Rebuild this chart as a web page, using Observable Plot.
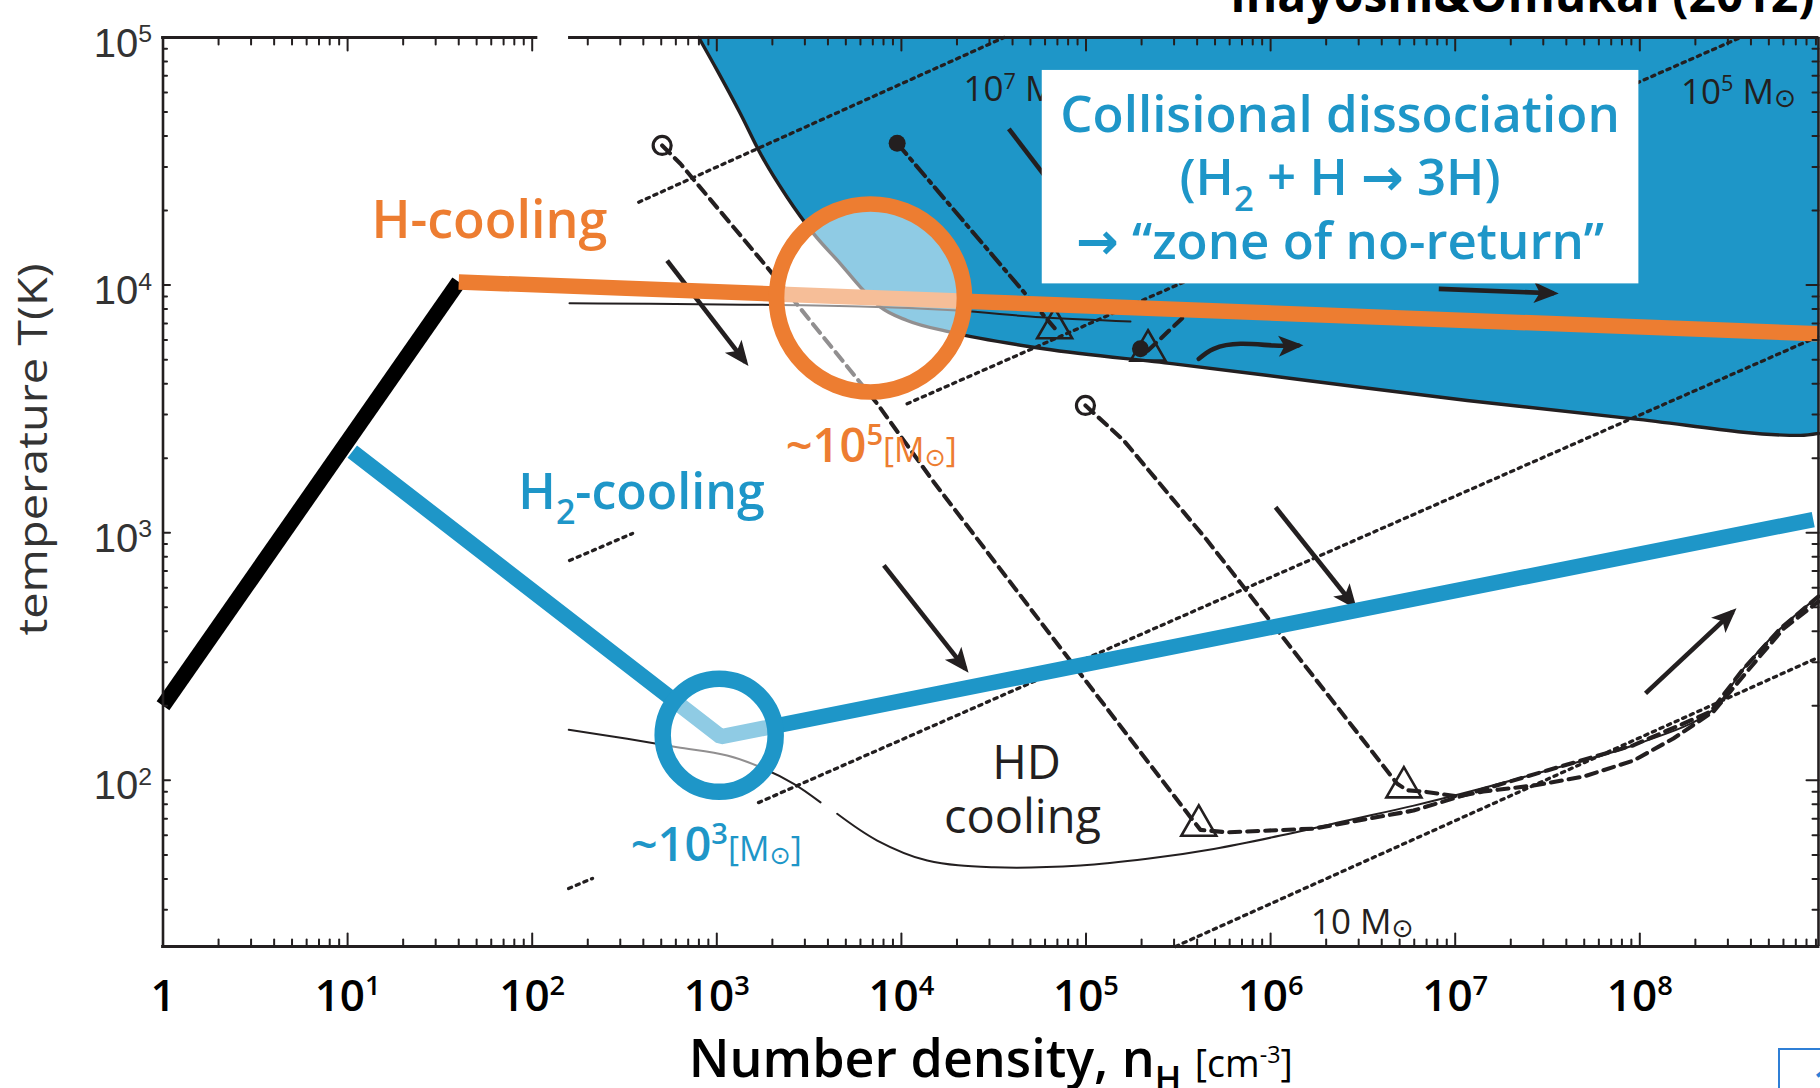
<!DOCTYPE html>
<html>
<head>
<meta charset="utf-8">
<script src="https://cdn.jsdelivr.net/npm/d3@7"></script>
<script src="https://cdn.jsdelivr.net/npm/@observablehq/plot@0.6"></script>
<style>
  html, body { margin: 0; padding: 0; background: #fff; }
  #wrap { position: relative; width: 1820px; height: 1088px; overflow: hidden; background: #fff; }
  #wrap svg { display: block; position: absolute; left: 0; top: 0; }
  #pageno { position: absolute; z-index: 2; left: 1778px; top: 1048px; width: 120px; height: 80px; box-sizing: border-box;
            border: 2px solid #2f7fd6; color: #2f7fd6; font: 600 40px 'Open Sans', sans-serif; padding: 4px 0 0 33px; background: #fff; }
</style>
</head>
<body>
<div id="wrap"><div id="pageno">1</div></div>
<script>
// ---------------- colours ----------------
const BLUE = "#1e96c8", ORANGE = "#ed7d31", INK = "#231f20";

// ---------------- axes ----------------
const X_MAX_LOG = 8.968, Y_MIN_LOG = 1.329;          // visible window (log10)
const xDecades = [0, 1, 2, 3, 4, 5, 6, 7, 8];         // labelled n_H ticks (log10)
const yDecades = [2, 3, 4, 5];                        // labelled T ticks (log10)
const minorSteps = [2, 3, 4, 5, 6, 7, 8, 9];

// ---------------- schematic thick tracks (n_H [cm^-3], T [K]) ----------------
const adiabaticN = [1, 40];             const adiabaticT = [200, 10300];
const hCoolingN  = [40, 9.2e8];         const hCoolingT  = [10300, 6360];
const h2CoolingN = [10.6, 1050, 8.7e8]; const h2CoolingT = [2128, 150, 1130];
const hCircle  = {n: 6800, T: 8870};    // ~1e5 Msun
const h2Circle = {n: 1030, T: 152};     // ~1e3 Msun

// ---------------- background figure (Inayoshi & Omukai 2012), log10 values ----------------
const boundaryLogN = [2.902, 3.002, 3.128, 3.237, 3.381, 3.525, 3.670, 3.778, 3.887, 4.031, 4.266, 4.771, 5.476, 6.198, 7.065, 7.967, 8.871, 8.968];
const boundaryLogT = [5.000, 4.867, 4.692, 4.530, 4.355, 4.207, 4.086, 3.992, 3.911, 3.857, 3.810, 3.743, 3.682, 3.615, 3.534, 3.460, 3.393, 3.401];

const upperThinLogN = [2.202, 3.778, 4.304, 4.754, 5.241];
const upperThinLogT = [3.927, 3.914, 3.897, 3.870, 3.853];

const hdCurveALogN = [2.198, 2.515, 2.786, 3.056, 3.237, 3.417, 3.562];
const hdCurveALogT = [2.204, 2.168, 2.134, 2.100, 2.053, 1.986, 1.911];
const hdCurveBLogN = [3.652, 3.869, 4.140, 4.501, 4.970, 5.332, 5.692, 6.054, 6.415, 6.776, 7.137, 7.498, 7.967, 8.383, 8.563, 8.762, 8.968];
const hdCurveBLogT = [1.865, 1.757, 1.676, 1.649, 1.656, 1.683, 1.723, 1.777, 1.838, 1.898, 1.966, 2.040, 2.142, 2.277, 2.452, 2.613, 2.743];

const jeansSegments = [
  {mass: "1e7", logN: [2.577, 4.556], logT: [4.335, 5.000]},
  {mass: "1e5", logN: [2.202, 2.544], logT: [2.888, 2.997]},
  {mass: "1e5", logN: [4.031, 8.545], logT: [3.521, 5.000]},
  {mass: "1e3", logN: [2.197, 2.327], logT: [1.563, 1.604]},
  {mass: "1e3", logN: [3.226, 8.968], logT: [1.910, 3.793]},
  {mass: "1e1", logN: [5.485, 8.968], logT: [1.329, 2.497]}
];

const trackALogN = [2.704, 2.803, 3.273, 3.869, 4.176, 4.880, 5.566, 5.620, 5.765, 6.232, 6.774, 7.137, 7.498, 7.967, 8.383, 8.563, 8.762, 8.968];
const trackALogT = [4.564, 4.490, 4.072, 3.521, 3.204, 2.517, 1.851, 1.800, 1.790, 1.805, 1.878, 1.960, 2.040, 2.142, 2.277, 2.452, 2.613, 2.743];
const trackBLogN = [4.997, 5.205, 5.657, 6.686, 6.740, 6.828, 7.012, 7.153, 7.424, 7.695, 7.966, 8.182, 8.399, 8.654, 8.779, 8.968];
const trackBLogT = [3.514, 3.372, 2.969, 1.986, 1.960, 1.955, 1.935, 1.955, 1.979, 2.015, 2.080, 2.169, 2.278, 2.504, 2.613, 2.722];
const trackCLogN = [3.977, 4.830];  const trackCLogT = [4.573, 3.826];
const trackDLogN = [5.336, 5.548];  const trackDLogT = [3.736, 3.885];

const openStartLogN   = [2.704, 4.997];  const openStartLogT   = [4.564, 3.514];
const filledStartLogN = [3.977, 5.295];  const filledStartLogT = [4.573, 3.743];
const triangleLogN = [5.611, 6.722, 4.830, 5.336];
const triangleLogT = [1.817, 1.972, 3.826, 3.736];

const arrowLogN1 = [2.731, 4.582, 3.905, 6.027, 8.031, 6.911];
const arrowLogT1 = [4.099, 4.631, 2.868, 3.103, 2.351, 3.985];
const arrowLogN2 = [3.155, 5.003, 4.347, 6.451, 8.504, 7.534];
const arrowLogT2 = [3.689, 4.221, 2.450, 2.706, 2.681, 3.967];
const curvedArrowLogN = [5.611, 5.692, 5.837, 6.017, 6.151];
const curvedArrowLogT = [3.702, 3.743, 3.763, 3.756, 3.756];

// ---------------- tables built from the arrays ----------------
const tp = (logN, logT, extra = {}) => logN.map((v, i) => ({n: 10 ** v, T: 10 ** logT[i], ...extra}));
const line2 = (n, t) => n.map((v, i) => ({n: v, T: t[i]}));
const X_MAX = 10 ** X_MAX_LOG, Y_MIN = 10 ** Y_MIN_LOG, Y_MAX = 1e5;

const boundary = tp(boundaryLogN, boundaryLogT);
const upperThin = tp(upperThinLogN, upperThinLogT);
const hdCurve = [...tp(hdCurveALogN, hdCurveALogT, {seg: 0}), ...tp(hdCurveBLogN, hdCurveBLogT, {seg: 1})];
const jeans = jeansSegments.flatMap((s, k) => tp(s.logN, s.logT, {seg: k}));
const trackA = tp(trackALogN, trackALogT), trackB = tp(trackBLogN, trackBLogT);
const trackC = tp(trackCLogN, trackCLogT), trackD = tp(trackDLogN, trackDLogT);
const openStarts = tp(openStartLogN, openStartLogT), filledStarts = tp(filledStartLogN, filledStartLogT);
const triangles = tp(triangleLogN, triangleLogT);
const arrows = arrowLogN1.map((v, i) => ({n1: 10 ** v, T1: 10 ** arrowLogT1[i], n2: 10 ** arrowLogN2[i], T2: 10 ** arrowLogT2[i]}));
const curvedArrow = tp(curvedArrowLogN, curvedArrowLogT);

const xMajor = xDecades.map(d => 10 ** d);
const yMajor = yDecades.map(d => 10 ** d);
const xMinor = xDecades.flatMap(d => minorSteps.map(s => s * 10 ** d)).filter(v => v <= X_MAX);
const yMinor = [1, 2, 3, 4].flatMap(d => minorSteps.map(s => s * 10 ** d)).filter(v => v >= Y_MIN && v <= Y_MAX);

// ---------------- helpers ----------------
function arrowHead(color, context) {
  const doc = (context && context.document) || document;
  const NS = "http://www.w3.org/2000/svg";
  const m = doc.createElementNS(NS, "marker");
  m.setAttribute("viewBox", "-22 -11 28 22");
  m.setAttribute("markerWidth", 28);
  m.setAttribute("markerHeight", 22);
  m.setAttribute("markerUnits", "userSpaceOnUse");
  m.setAttribute("refX", 0);
  m.setAttribute("refY", 0);
  m.setAttribute("orient", "auto");
  const p = doc.createElementNS(NS, "path");
  p.setAttribute("d", "M5,0 L-20,-10.5 L-14,0 L-20,10.5 Z");
  p.setAttribute("fill", color);
  p.setAttribute("stroke", "none");
  m.appendChild(p);
  return m;
}
const tickShape = {draw(ctx, l) { ctx.moveTo(0, 0); ctx.lineTo(0, -l); }};
const ticks = (values, channel, frameAnchor, rotate, length) =>
  Plot.vector(values, {[channel]: d => d, frameAnchor, rotate, length, anchor: "start", shape: tickShape, stroke: INK, strokeWidth: 2});
const label = (logN, logT, text, opts) =>
  Plot.text([{n: 10 ** logN, T: 10 ** logT, text}], {x: "n", y: "T", text: "text", lineAnchor: "bottom", ...opts});

const F = "'Open Sans','DejaVu Sans',sans-serif";
const DOTTED = {stroke: INK, strokeWidth: 3.3, strokeDasharray: "3.3 5"};
const DASHED = {stroke: INK, strokeWidth: 4.1, strokeDasharray: "11 7"};

const chart = Plot.plot({
  width: 1820, height: 1088,
  marginLeft: 162.5, marginRight: 2, marginTop: 37, marginBottom: 142,
  x: {type: "log", domain: [1, X_MAX], axis: null},
  y: {type: "log", domain: [Y_MIN, Y_MAX], axis: null},
  style: {fontFamily: F, background: "white", overflow: "visible", fontSize: "10px"},
  marks: [
    // collisional-dissociation zone
    Plot.areaY(boundary, {x: "n", y1: "T", y2: Y_MAX, fill: BLUE, curve: "monotone-x"}),
    Plot.line(boundary, {x: "n", y: "T", stroke: INK, strokeWidth: 3.4, curve: "monotone-x"}),
    // thin solid tracks
    Plot.line(upperThin, {x: "n", y: "T", stroke: INK, strokeWidth: 2, curve: "monotone-x"}),
    Plot.line(hdCurve, {x: "n", y: "T", z: "seg", stroke: INK, strokeWidth: 2, curve: "catmull-rom"}),
    // Jeans-mass dotted lines
    Plot.line(jeans, {x: "n", y: "T", z: "seg", ...DOTTED}),
    // evolutionary tracks
    Plot.line(trackA, {x: "n", y: "T", ...DASHED}),
    Plot.line(trackB, {x: "n", y: "T", ...DASHED}),
    Plot.line(trackC, {x: "n", y: "T", stroke: INK, strokeWidth: 4.1, strokeDasharray: "14 6 3 6"}),
    Plot.line(trackD, {x: "n", y: "T", ...DASHED}),
    Plot.dot(openStarts, {x: "n", y: "T", r: 9, stroke: INK, strokeWidth: 3.2, fill: "none"}),
    Plot.dot(filledStarts, {x: "n", y: "T", r: 8.5, fill: INK}),
    Plot.dot(triangles, {x: "n", y: "T", symbol: "triangle", r: 13, stroke: INK, strokeWidth: 2.6, fill: "none"}),
    // arrows
    Plot.link(arrows, {x1: "n1", y1: "T1", x2: "n2", y2: "T2", stroke: INK, strokeWidth: 4.6, markerEnd: arrowHead}),
    Plot.line(curvedArrow, {x: "n", y: "T", stroke: INK, strokeWidth: 4.6, curve: "natural", markerEnd: arrowHead}),
    // Jeans-mass labels
    label(4.336, 4.742, "10^{7} M_{⊙}", {textAnchor: "start", fontSize: 35, fill: INK}),
    label(8.535, 4.733, "10^{5} M_{⊙}", {fontSize: 35, fill: INK}),
    label(6.496, 1.381, "10 M_{⊙}", {fontSize: 35, fill: INK}),
    label(4.678, 2.006, "HD", {fontSize: 47, fill: INK}),
    label(4.656, 1.789, "cooling", {fontSize: 47, fill: INK}),
    // annotation box
    Plot.rect([{x1: 10 ** 4.763, x2: 10 ** 7.995, y1: 10 ** 4.005, y2: 10 ** 4.867}], {x1: "x1", x2: "x2", y1: "y1", y2: "y2", fill: "white"}),
    label(6.376, 4.618, "Collisional dissociation", {fontSize: 51, fontWeight: 600, fill: BLUE}),
    label(6.376, 4.362, "(H_{2} + H → 3H)", {fontSize: 51, fontWeight: 600, fill: BLUE}),
    label(6.376, 4.106, "→ “zone of no-return”", {fontSize: 51, fontWeight: 600, fill: BLUE}),
    // thick schematic lines
    Plot.line(line2(adiabaticN, adiabaticT), {x: "n", y: "T", stroke: "black", strokeWidth: 15.5, strokeLinecap: "butt"}),
    Plot.line(line2(hCoolingN, hCoolingT), {x: "n", y: "T", stroke: ORANGE, strokeWidth: 15.5, strokeLinecap: "butt"}),
    Plot.line(line2(h2CoolingN, h2CoolingT), {x: "n", y: "T", stroke: BLUE, strokeWidth: 15.5, strokeLinecap: "butt", strokeLinejoin: "miter"}),
    // highlighted circles
    Plot.dot([hCircle], {x: "n", y: "T", r: 94, fill: "white", fillOpacity: 0.5}),
    Plot.dot([hCircle], {x: "n", y: "T", r: 94, fill: "none", stroke: ORANGE, strokeWidth: 15.7}),
    Plot.dot([h2Circle], {x: "n", y: "T", r: 56.5, fill: "white", fillOpacity: 0.5}),
    Plot.dot([h2Circle], {x: "n", y: "T", r: 56.5, fill: "none", stroke: BLUE, strokeWidth: 16.5}),
    // coloured labels
    label(1.768, 4.191, "H-cooling", {fontSize: 52, fontWeight: 600, fill: ORANGE}),
    label(2.592, 3.096, "H_{2}-cooling", {fontSize: 50, fontWeight: 600, fill: BLUE}),
    label(3.837, 3.285, "~10^{5}[M_{⊙}]", {fontSize: 47, fontWeight: 600, fill: ORANGE}),
    label(2.997, 1.676, "~10^{3}[M_{⊙}]", {fontSize: 47, fontWeight: 600, fill: BLUE}),
    // frame
    Plot.ruleX([1], {stroke: INK, strokeWidth: 2.6}),
    Plot.ruleX([X_MAX], {stroke: INK, strokeWidth: 2.6}),
    Plot.ruleY([Y_MIN], {stroke: INK, strokeWidth: 2.8, strokeLinecap: "square"}),
    Plot.ruleY([Y_MAX], {x1: 1, x2: 10 ** 2.023, stroke: INK, strokeWidth: 2.8, strokeLinecap: "square"}),
    Plot.ruleY([Y_MAX], {x1: 10 ** 2.197, x2: X_MAX, stroke: INK, strokeWidth: 2.8}),
    ticks(xMajor, "x", "bottom", 0, 13), ticks(xMinor, "x", "bottom", 0, 7),
    ticks(xMajor, "x", "top", 180, 13), ticks(xMinor, "x", "top", 180, 7),
    ticks(yMajor, "y", "left", 90, 7), ticks(yMinor, "y", "left", 90, 4),
    ticks(yMajor, "y", "right", -90, 12), ticks(yMinor, "y", "right", -90, 6),
    // tick labels
    Plot.text(xMajor, {x: d => d, text: d => d === 1 ? "1" : `10^{${Math.round(Math.log10(d))}}`, frameAnchor: "bottom", dy: 64, lineAnchor: "bottom", fontSize: 44, fontWeight: 600, fill: "black"}),
    Plot.text(yMajor, {y: d => d, text: d => `10^{${Math.round(Math.log10(d))}}`, frameAnchor: "left", dx: -11, dy: 19, textAnchor: "end", lineAnchor: "bottom", fontSize: 40, fontFamily: "'Liberation Sans',sans-serif", fill: "#333"}),
    // axis titles
    Plot.text(["Number density, n_{H} [cm^{-3}]"], {text: d => d, frameAnchor: "bottom", dy: 130, lineAnchor: "bottom", fontSize: 52, fontWeight: 600, fill: "black"}),
    Plot.text(["temperature T(K)"], {text: d => d, frameAnchor: "left", rotate: -90, dx: -116.5, dy: 143.5, textAnchor: "start", lineAnchor: "bottom", fontSize: 40, fill: "#333"}),
    // source (cut off at the top of the slide)
    Plot.text(["Inayoshi&Omukai (2012)"], {text: d => d, frameAnchor: "top-right", dx: -4, dy: -26, textAnchor: "end", lineAnchor: "bottom", fontSize: 48, fontWeight: 700, fill: "black"})
  ]
});

const wrap = document.getElementById("wrap");
wrap.insertBefore(chart, wrap.firstChild);

// rich text: ^{..} superscript, _{..} subscript, [..] smaller regular weight
function richify(root) {
  const NS = "http://www.w3.org/2000/svg";
  for (const t of root.querySelectorAll("text")) {
    const s = t.textContent;
    if (s === "temperature T(K)") {
      t.setAttribute("textLength", 372);
      t.setAttribute("lengthAdjust", "spacingAndGlyphs");
    }
    if (!/[\^_]\{|\[/.test(s)) continue;
    const base = parseFloat(getComputedStyle(t).fontSize);
    const segs = [];
    let buf = "", br = false, i = 0;
    const flush = () => { if (buf) segs.push({text: buf, mode: "", br}); buf = ""; };
    while (i < s.length) {
      const c = s[i];
      if ((c === "^" || c === "_") && s[i + 1] === "{") {
        flush();
        const j = s.indexOf("}", i);
        segs.push({text: s.slice(i + 2, j), mode: c === "^" ? "sup" : "sub", br});
        i = j + 1;
      } else if (c === "[") { flush(); br = true; buf = "["; i++; }
      else if (c === "]") { buf += "]"; flush(); br = false; i++; }
      else { buf += c; i++; }
    }
    flush();
    while (t.firstChild) t.removeChild(t.firstChild);
    let shift = 0;
    for (const g of segs) {
      const size0 = base * (g.br ? 0.72 : 1);
      let size = size0, target = 0;
      if (g.mode === "sup") { size = size0 * 0.62; target = -0.36 * size0; }
      else if (g.mode === "sub") {
        if (g.text === "⊙") { size = size0 * 0.75; target = 0.1 * size0; }
        else { size = size0 * 0.68; target = 0.3 * size0; }
      }
      const ts = document.createElementNS(NS, "tspan");
      ts.textContent = g.text;
      ts.setAttribute("font-size", size.toFixed(2));
      if (Math.abs(target - shift) > 0.01) ts.setAttribute("dy", (target - shift).toFixed(2));
      if (g.br) ts.setAttribute("font-weight", "400");
      shift = target;
      t.appendChild(ts);
    }
  }
}
richify(chart);
</script>
</body>
</html>
